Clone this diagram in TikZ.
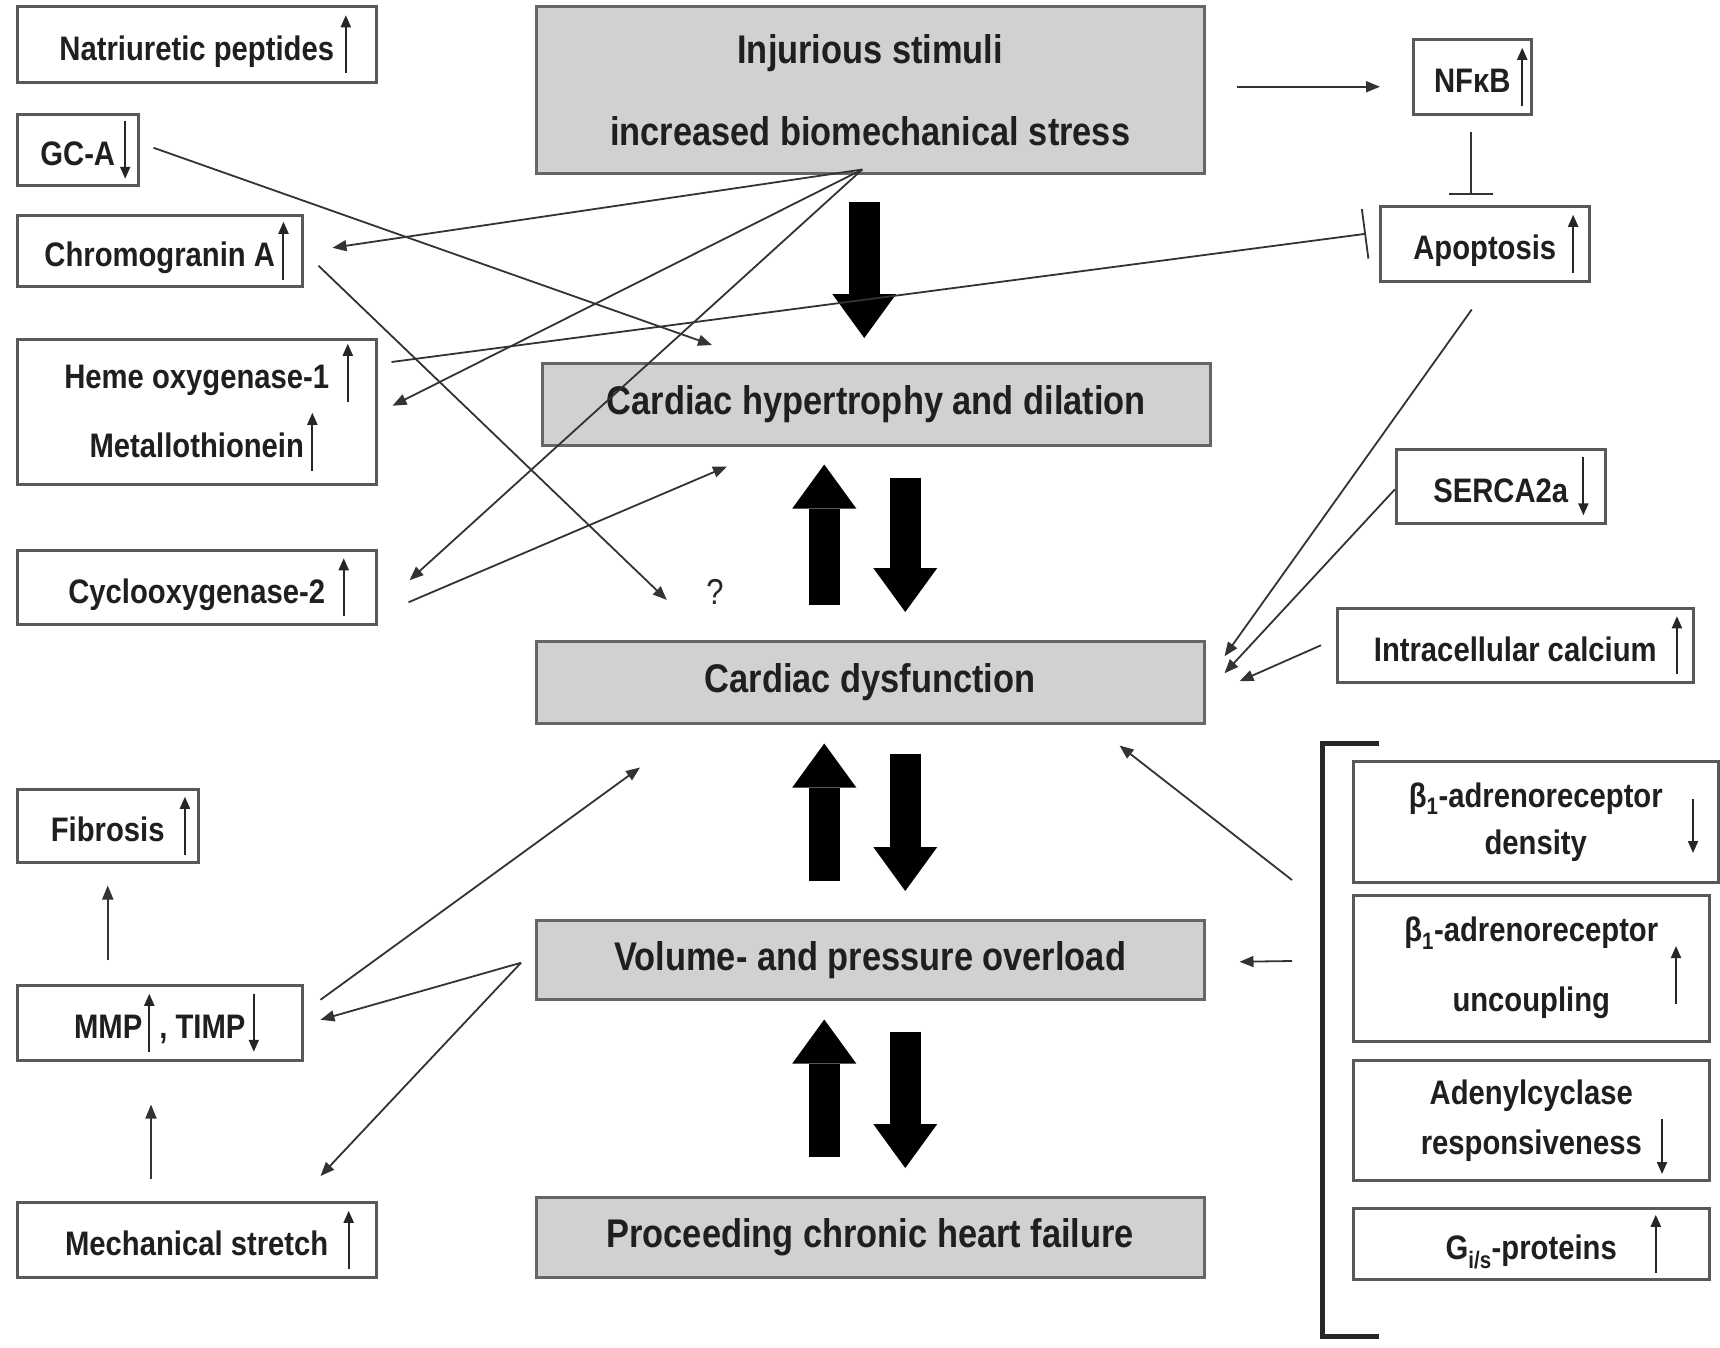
\documentclass[tikz,border=0pt]{standalone}
\usepackage{fontspec}
\setmainfont{Liberation Sans}[FakeStretch=0.86]
\usetikzlibrary{arrows.meta,calc}

% fonts of the labels
\newcommand{\bigfont}{\fontsize{40}{46}\selectfont\bfseries}
\newcommand{\smfont}{\fontsize{34}{40}\selectfont\bfseries}
\newcommand{\qfont}{\fontsize{36}{40}\selectfont}

% small up / down arrows written after a label
\newcommand{\UpA}{\tikz[baseline=0pt]\draw[txtarrow] (0pt,-13pt) -- (0pt,45pt);}
\newcommand{\DnA}{\tikz[baseline=0pt]\draw[txtarrow] (0pt,45pt) -- (0pt,-13pt);}
\newcommand{\UpR}[1][0.3em]{\rlap{\hspace{#1}\UpA}}
\newcommand{\DnR}[1][0.3em]{\rlap{\hspace{#1}\DnA}}

\tikzset{
  txtarrow/.style={draw=black!85, line width=2pt, -{Triangle[length=12pt,width=10pt]}},
  lbox/.style={anchor=north west, draw=black!65, line width=2.5pt, fill=white,
    font=\smfont, text=black!88, align=center, inner sep=0pt},
  cbox/.style={anchor=north west, draw=black!60, line width=2.5pt, fill=black!18,
    font=\bigfont, text=black!88, align=center, inner sep=0pt},
  conn/.style={draw=black!80, line width=1.8pt, -{Triangle[length=14pt,width=11pt]}},
  inhib/.style={draw=black!80, line width=1.8pt, -{Bar[width=#1]}},
  fat/.style={draw=black, line width=31pt, -{Triangle[length=44pt,width=64pt,line width=0pt]}},
}

\begin{document}
\begin{tikzpicture}[x=1pt,y=-1pt]
\useasboundingbox[fill=white] (0,0) rectangle (1720,1347);

% ---- main cascade ----
\node[cbox,minimum width=668,minimum height=167] (inj) at (535,5)
  {Injurious stimuli\\[36pt]increased biomechanical stress};
\node[cbox,minimum width=668,minimum height=82] (hyp) at (541,362) {Cardiac hypertrophy and dilation};
\node[cbox,minimum width=668,minimum height=82] (dys) at (535,640) {Cardiac dysfunction};
\node[cbox,minimum width=668,minimum height=79] (vol) at (535,919) {Volume- and pressure overload};
\node[cbox,minimum width=668,minimum height=80] (chf) at (535,1196) {Proceeding chronic heart failure};

% ---- left column ----
\node[lbox,minimum width=359,minimum height=76] (nat) at (16,5) {Natriuretic peptides\UpR[0.2em]};
\node[lbox,minimum width=121,minimum height=71] (gca) at (16,113) {GC-A\DnR[0.15em]};
\node[lbox,minimum width=285,minimum height=71] (chg) at (16,214) {Chromogranin A\UpR[0.1em]};
\node[lbox,minimum width=359,minimum height=145] (heme) at (16,338)
  {Heme oxygenase-1\smash{\UpR[0.4em]}\\[29pt]Metallothionein\smash{\UpR[0.1em]}};
\node[lbox,minimum width=359,minimum height=74] (cox) at (16,549) {Cyclooxygenase-2\UpR[0.4em]};
\node[lbox,minimum width=181,minimum height=73] (fib) at (16,788) {Fibrosis\UpR[0.45em]};
\node[lbox,minimum width=285,minimum height=75] (mmp) at (16,984)
  {MMP\hspace{2pt}\UpA\hspace{5pt}, TIMP\DnR[0.1em]};
\node[lbox,minimum width=359,minimum height=75] (mech) at (16,1201) {Mechanical stretch\UpR[0.45em]};

% ---- right column ----
\node[lbox,minimum width=118,minimum height=75] (nfkb) at (1412,38) {NFκB\UpR[0.2em]};
\node[lbox,minimum width=209,minimum height=75] (apo) at (1379,205) {Apoptosis\UpR[0.35em]};
\node[lbox,minimum width=209,minimum height=74] (serca) at (1395,448) {SERCA2a\DnR[0.3em]};
\node[lbox,minimum width=356,minimum height=74] (calc) at (1336,607) {Intracellular calcium\UpR[0.45em]};
\node[lbox,minimum width=365,minimum height=121] (b1d) at (1352,760)
  {β\textsubscript{1}-adrenoreceptor\\[7pt]density};
\node[lbox,minimum width=356,minimum height=146] (b1u) at (1352,894)
  {β\textsubscript{1}-adrenoreceptor\\[30pt]uncoupling};
\node[lbox,minimum width=356,minimum height=120] (adc) at (1352,1059)
  {Adenylcyclase\\[10pt]responsiveness};
\node[lbox,minimum width=356,minimum height=71] (gis) at (1352,1207)
  {G\textsubscript{i/s}-proteins\UpR[1em]};

% arrows standing beside the two-line labels
\draw[txtarrow] ($(b1d.north west)+(341,39)$) -- ($(b1d.north west)+(341,93)$);
\draw[txtarrow] ($(b1u.north west)+(324,110)$) -- ($(b1u.north west)+(324,52)$);
\draw[txtarrow] ($(adc.north west)+(310,60)$) -- ($(adc.north west)+(310,115)$);

% bracket grouping the receptor changes
\draw[line width=5pt, draw=black!85] (1379,743) -- (1322,743) -- (1322,1336) -- (1379,1336);
\coordinate (bkA) at (1292,880);
\coordinate (bkB) at (1292,961);

% question mark
\node[font=\qfont, text=black!85] (q) at (715,592) {?};

% ---- thick arrows between the stages ----
\draw[fat] ($(inj.south)+(-6,27)$) -- ($(hyp.north)+(-12,-24)$);
\draw[fat] ($(dys.north)+(-46,-35)$) -- ($(hyp.south)+(-52,18)$);
\draw[fat] ($(hyp.south)+(29,31)$) -- ($(dys.north)+(35,-28)$);
\draw[fat] ($(vol.north)+(-46,-38)$) -- ($(dys.south)+(-46,19)$);
\draw[fat] ($(dys.south)+(35,29)$) -- ($(vol.north)+(35,-28)$);
\draw[fat] ($(chf.north)+(-46,-39)$) -- ($(vol.south)+(-46,19)$);
\draw[fat] ($(vol.south)+(35,31)$) -- ($(chf.north)+(35,-28)$);

% ---- thin connectors ----
\coordinate (src) at ($(inj.south)+(-8,-5)$);
\draw[conn] ($(inj.east)+(31,-3)$) -- ($(nfkb.west)+(-32,10)$);
\draw[inhib=44pt] ($(nfkb.south)+(-1,16)$) -- ($(nfkb.south |- apo.north)+(-1,-10)$);
\draw[inhib=50pt] ($(heme.north east)+(14,24)$) -- ($(apo.west)+(-13,-10)$);

\draw[conn] (src) -- ($(chg.east)+(29,-3)$);
\draw[conn] (src) -- ($(heme.east)+(15,-6)$);
\draw[conn] (src) -- ($(cox.east)+(32,-7)$);
\draw[conn] ($(gca.east)+(14,-2)$) -- ($(hyp.north west)+(171,-17)$);
\draw[conn] ($(chg.east)+(15,15)$) -- ($(q.west)+(-36,8)$);
\draw[conn] ($(cox.east)+(31,15)$) -- ($(hyp.south west)+(186,20)$);

\draw[conn] ($(apo.south)+(-13,27)$) -- ($(dys.east)+(19,-26)$);
\draw[conn] ($(serca.west)+(0,3)$) -- ($(dys.east)+(19,-9)$);
\draw[conn] ($(calc.west)+(-15,0)$) -- ($(dys.east)+(34,-1)$);
\draw[conn] (bkA) -- ($(dys.south east)+(-86,21)$);
\draw[conn] (bkB) -- ($(vol.east)+(34,2)$);

\coordinate (vsrc) at ($(vol.west)+(-14,3)$);
\draw[conn] (vsrc) -- ($(mmp.east)+(17,-3)$);
\draw[conn] (vsrc) -- ($(mech.north east)+(-57,-25)$);
\draw[conn] ($(mmp.east)+(17,-23)$) -- ($(dys.south west)+(105,43)$);
\draw[conn] ($(fib.south |- mmp.north)+(0,-24)$) -- ($(fib.south)+(0,22)$);
\draw[conn] ($(mech.north west)+(135,-22)$) -- ($(mmp.south west)+(135,43)$);
\end{tikzpicture}
\end{document}
